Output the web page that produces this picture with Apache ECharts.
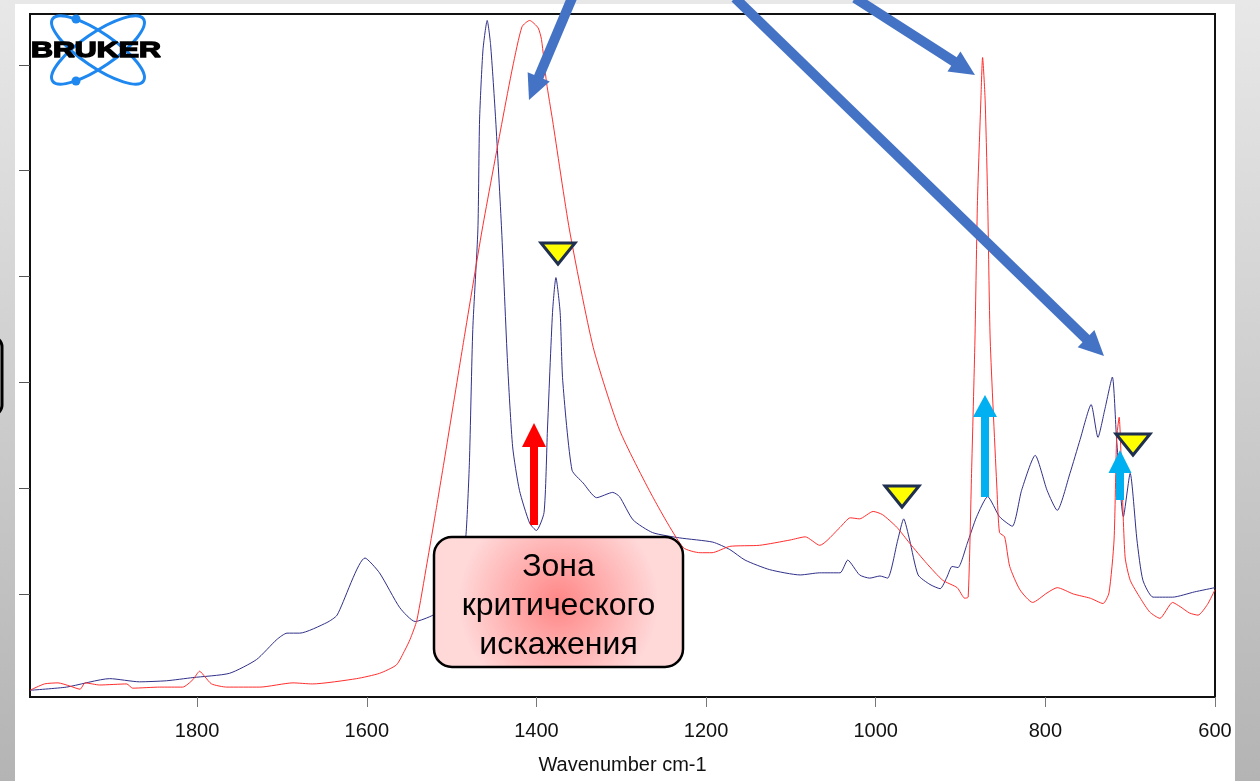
<!DOCTYPE html>
<html>
<head>
<meta charset="utf-8">
<script src="https://cdn.jsdelivr.net/npm/echarts@6/dist/echarts.min.js"></script>
<style>
html, body { margin: 0; padding: 0; }
#wrap { position: relative; width: 1260px; height: 781px; background: linear-gradient(#e8e8e8, #b4b4b4); overflow: hidden; }
#panel { position: absolute; left: 15px; top: 4px; width: 1220px; height: 777px; background: #fff; }
#chart { position: absolute; left: 0; top: 0; width: 1260px; height: 781px; }
</style>
</head>
<body>
<div id="wrap">
  <div id="panel"></div>
  <div id="chart"></div>
</div>
<script>
// spectra: wavenumber (cm-1) and absorbance
var blueWavenumber = [1997, 1954, 1903, 1868, 1836, 1805, 1762, 1730, 1706, 1694, 1679, 1647, 1635, 1602, 1585, 1561,
    1543, 1522, 1508, 1496, 1488, 1483, 1479, 1475, 1469, 1467, 1463, 1458, 1454, 1448, 1441, 1434, 1428, 1420, 1408,
    1400, 1391, 1387, 1381, 1377, 1372, 1369, 1358, 1345, 1329, 1310, 1302, 1286, 1263, 1231, 1192, 1172, 1154, 1125,
    1089, 1066, 1042, 1033, 1019, 1007, 995, 986, 974, 967, 960, 950, 936, 924, 916, 910, 903, 892, 881, 868, 854, 839,
    828, 812, 798, 786, 771, 759, 746, 738, 730, 721, 716, 708, 700, 692, 685, 673, 650, 624, 600];
var blueAbsorbance = [0.009, 0.012, 0.020, 0.017, 0.018, 0.021, 0.025, 0.038, 0.057, 0.063, 0.063, 0.073, 0.080, 0.134,
    0.120, 0.087, 0.074, 0.080, 0.090, 0.106, 0.130, 0.156, 0.224, 0.350, 0.444, 0.548, 0.614, 0.642, 0.619, 0.548, 0.444,
    0.318, 0.239, 0.198, 0.167, 0.160, 0.177, 0.255, 0.366, 0.399, 0.366, 0.302, 0.217, 0.205, 0.191, 0.196, 0.192, 0.170,
    0.158, 0.153, 0.149, 0.142, 0.132, 0.123, 0.118, 0.120, 0.120, 0.132, 0.118, 0.115, 0.117, 0.115, 0.151, 0.171, 0.151,
    0.118, 0.109, 0.105, 0.116, 0.126, 0.125, 0.148, 0.173, 0.192, 0.173, 0.164, 0.198, 0.231, 0.198, 0.179, 0.214, 0.246,
    0.279, 0.248, 0.274, 0.305, 0.246, 0.173, 0.214, 0.151, 0.113, 0.097, 0.097, 0.102, 0.106];

var redWavenumber = [1997, 1980, 1964, 1950, 1938, 1932, 1915, 1883, 1876, 1844, 1817, 1805, 1797, 1791, 1783, 1765,
    1726, 1687, 1664, 1612, 1585, 1565, 1555, 1549, 1541, 1529, 1519, 1506, 1487, 1464, 1440, 1428, 1417, 1408, 1398,
    1394, 1388, 1381, 1361, 1333, 1302, 1263, 1227, 1207, 1193, 1172, 1137, 1101, 1083, 1066, 1042, 1030, 1019, 1003,
    992, 975, 960, 940, 921, 904, 895, 891, 887, 883, 880, 876, 874, 871, 868, 865, 857, 854, 848, 842, 830, 815, 798,
    786, 767, 747, 732, 725, 719, 716, 713, 710, 706, 700, 688, 677, 665, 650, 641, 630, 620, 609, 600];
var redAbsorbance = [0.009, 0.015, 0.016, 0.013, 0.010, 0.016, 0.014, 0.015, 0.011, 0.012, 0.012, 0.019, 0.027, 0.022,
    0.015, 0.012, 0.012, 0.016, 0.015, 0.020, 0.025, 0.033, 0.047, 0.057, 0.075, 0.129, 0.176, 0.239, 0.333, 0.444, 0.548,
    0.598, 0.636, 0.642, 0.635, 0.624, 0.583, 0.548, 0.444, 0.333, 0.255, 0.192, 0.144, 0.139, 0.139, 0.145, 0.146, 0.151,
    0.154, 0.146, 0.163, 0.172, 0.171, 0.178, 0.175, 0.163, 0.148, 0.129, 0.113, 0.106, 0.096, 0.097, 0.214, 0.340, 0.472,
    0.567, 0.607, 0.567, 0.472, 0.340, 0.198, 0.158, 0.154, 0.126, 0.104, 0.092, 0.101, 0.106, 0.100, 0.096, 0.091, 0.101,
    0.151, 0.246, 0.267, 0.214, 0.135, 0.113, 0.096, 0.083, 0.077, 0.092, 0.088, 0.082, 0.080, 0.090, 0.104];

var xTicks = [600, 800, 1000, 1200, 1400, 1600, 1800];
var yTicks = [0.1, 0.2, 0.3, 0.4, 0.5, 0.6];

function zip(xs, ys) {
    var out = [];
    for (var i = 0; i < xs.length; i++) out.push([xs[i], ys[i]]);
    return out;
}

// arrow helpers for the slide annotations
function arrowLine(x1, y1, x2, y2, color) {
    return { type: 'line', z: 110, shape: { x1: x1, y1: y1, x2: x2, y2: y2 },
        style: { stroke: color, lineWidth: 10, lineCap: 'butt' } };
}
// slanted arrow: shaft from (x1,y1) towards tip (x2,y2), triangle head
function slantArrow(x1, y1, x2, y2, len, half, color) {
    var dx = x2 - x1, dy = y2 - y1;
    var d = Math.sqrt(dx * dx + dy * dy);
    var ux = dx / d, uy = dy / d;
    var bx = x2 - ux * len, by = y2 - uy * len;
    return [
        arrowLine(x1, y1, bx + ux, by + uy, color),
        { type: 'polygon', z: 110, shape: { points: [[x2, y2], [bx - uy * half, by + ux * half], [bx + uy * half, by - ux * half]] },
            style: { fill: color } }
    ];
}
function upArrow(cx, bottom, headBase, tip, shaftW, headW, color) {
    return [
        { type: 'rect', z: 120, shape: { x: cx - shaftW / 2, y: headBase - 1, width: shaftW, height: bottom - headBase + 1 }, style: { fill: color } },
        { type: 'polygon', z: 120, shape: { points: [[cx - headW / 2, headBase], [cx + headW / 2, headBase], [cx, tip]] }, style: { fill: color } }
    ];
}
function marker(x, y) {
    return { type: 'polygon', z: 115, shape: { points: [[x - 17, y], [x + 17, y], [x, y + 21]] },
        style: { fill: '#ffff00', stroke: '#1f2f4f', lineWidth: 3, lineJoin: 'miter' } };
}

var mychart = echarts.init(document.getElementById('chart'));
var blue = '#4472c4';
var cyan = '#00b0f0';
var logo = '#1e88f0';

var graphics = [
    // fragment of a shape on the slide's left edge
    { type: 'rect', z: 100, shape: { x: -30, y: 337, width: 32, height: 78, r: 10 }, style: { fill: 'none', stroke: '#000', lineWidth: 3 } },
    // logo
    { type: 'ellipse', z: 100, x: 98, y: 50, rotation: 0.6, shape: { cx: 0, cy: 0, rx: 55, ry: 17 }, style: { fill: 'none', stroke: logo, lineWidth: 3 } },
    { type: 'ellipse', z: 100, x: 98, y: 50, rotation: -0.6, shape: { cx: 0, cy: 0, rx: 55, ry: 17 }, style: { fill: 'none', stroke: logo, lineWidth: 3 } },
    { type: 'circle', z: 101, shape: { cx: 76, cy: 19, r: 4.5 }, style: { fill: logo } },
    { type: 'circle', z: 101, shape: { cx: 76, cy: 81, r: 4.5 }, style: { fill: logo } },
    { type: 'text', z: 102, x: 31, y: 51, scaleX: 1.38,
        style: { text: 'BRUKER', x: 0, y: 0, verticalAlign: 'middle', font: 'bold 22px "Liberation Sans"', fill: '#000', stroke: '#000', lineWidth: 1.4 } },
    // yellow markers
    marker(558, 243),
    marker(902, 486),
    marker(1133, 434),
    // text box
    { type: 'rect', z: 130, shape: { x: 434, y: 537, width: 249, height: 130, r: 18 },
        style: { fill: new echarts.graphic.RadialGradient(0.5, 0.5, 0.75, [
            { offset: 0, color: '#ff8686' }, { offset: 1, color: '#ffd8d8' }]), stroke: '#000', lineWidth: 2.5 } },
    { type: 'text', z: 131, x: 558.5, y: 606,
        style: { text: 'Зона\nкритического\nискажения', x: 0, y: 0, align: 'center', verticalAlign: 'middle',
            font: '32px "Liberation Sans"', lineHeight: 39, fill: '#000' } }
];
// blue pointer arrows
graphics = graphics.concat(slantArrow(572, -2, 529, 100, 25, 12, blue));
graphics = graphics.concat(slantArrow(855, -2, 975, 75, 25, 12, blue));
graphics = graphics.concat(slantArrow(735, -2, 1104, 356, 25, 12, blue));
graphics = graphics.concat(upArrow(534, 525, 447, 423, 8, 24, '#ff0000'));
graphics = graphics.concat(upArrow(985, 497, 417, 395, 8, 24, cyan));
graphics = graphics.concat(upArrow(1120, 500, 473, 450, 8, 23, cyan));

var option = {
    backgroundColor: 'transparent',
    animation: false,
    grid: {
        left: 30, top: 14, width: 1185, height: 683,
        show: true, backgroundColor: '#fff', borderColor: '#111', borderWidth: 2
    },
    xAxis: {
        type: 'value', inverse: true, min: 600, max: 1997,
        name: 'Wavenumber cm-1', nameLocation: 'middle', nameGap: 58,
        nameTextStyle: { fontFamily: 'Liberation Sans', fontSize: 20, color: '#111' },
        axisLine: { show: true, lineStyle: { color: '#111', width: 2 } },
        axisTick: { show: true, length: 10, lineStyle: { color: '#777', width: 1 }, customValues: xTicks },
        axisLabel: { margin: 24, fontFamily: 'Liberation Sans', fontSize: 20, color: '#111', customValues: xTicks,
            formatter: function (v) { return String(v); } },
        splitLine: { show: false }
    },
    yAxis: {
        type: 'value', min: 0.00265, max: 0.6481,
        axisLine: { show: true, lineStyle: { color: '#111', width: 2 } },
        axisTick: { show: true, length: 11, lineStyle: { color: '#555', width: 1 }, customValues: yTicks },
        axisLabel: { show: false },
        splitLine: { show: false }
    },
    series: [
        {
            type: 'line', data: zip(blueWavenumber, blueAbsorbance), symbol: 'none', smooth: 0.2,
            lineStyle: { color: '#30308a', width: 1 }, z: 2
        },
        {
            type: 'line', data: zip(redWavenumber, redAbsorbance), symbol: 'none', smooth: 0.2,
            lineStyle: { color: '#ff2e2e', width: 1 }, z: 3
        }
    ],
    graphic: graphics
};
mychart.setOption(option);
</script>
</body>
</html>
